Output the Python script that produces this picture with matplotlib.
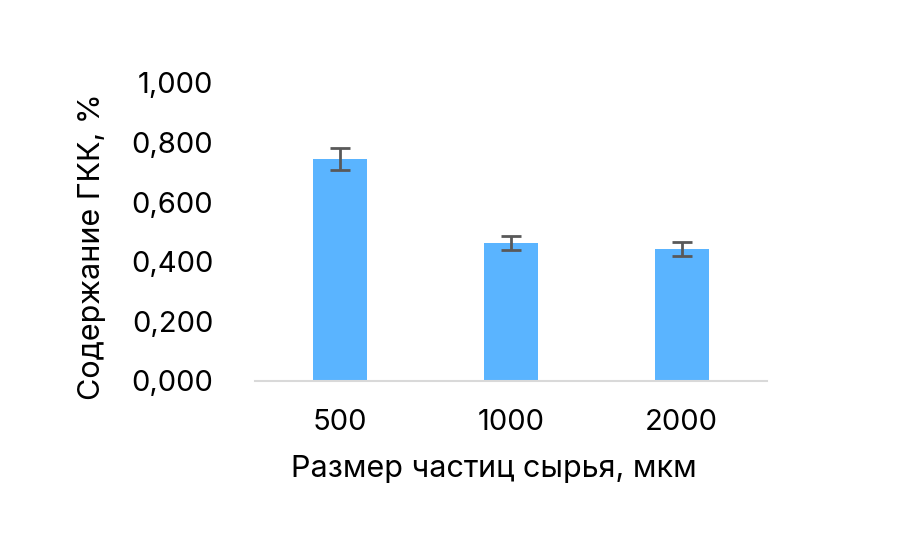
import matplotlib.pyplot as plt

# Particle size categories and measured content
sizes = ['500', '1000', '2000']
content = [0.745, 0.463, 0.443]
errors = [0.038, 0.023, 0.022]

plt.rcParams['font.family'] = ['Inter', 'DejaVu Sans']

fig = plt.figure(figsize=(9.19, 5.57), dpi=100)
ax = fig.add_axes([0.2775, 0.316, 0.557, 0.535])

x = range(len(sizes))
ax.bar(x, content, width=0.316, color='#5AB4FF',
       yerr=errors, error_kw=dict(ecolor='#595959', elinewidth=2, capsize=7, capthick=2))

ax.set_xlim(-0.5, 2.5)
ax.set_ylim(0, 1.0)
ax.set_yticks([0, 0.2, 0.4, 0.6, 0.8, 1.0])
ax.set_yticklabels(['0,000', '0,200', '0,400', '0,600', '0,800', '1,000'])
ax.set_xticks(list(x))
ax.set_xticklabels(sizes)

for side in ['top', 'right', 'left']:
    ax.spines[side].set_visible(False)
ax.spines['bottom'].set_color('#D9D9D9')
ax.spines['bottom'].set_linewidth(1.5)
ax.tick_params(axis='both', length=0, labelsize=21, colors='black')
ax.tick_params(axis='y', pad=30)
ax.tick_params(axis='x', pad=20)

ax.set_xlabel('Размер частиц сырья, мкм', fontsize=22, labelpad=14)
ax.set_ylabel('Содержание ГКК, %', fontsize=22, labelpad=16)
ax.xaxis.set_label_coords(0.467, -0.25)
ax.yaxis.set_label_coords(-0.292, 0.45)

fig.savefig('out.png', dpi=100)
